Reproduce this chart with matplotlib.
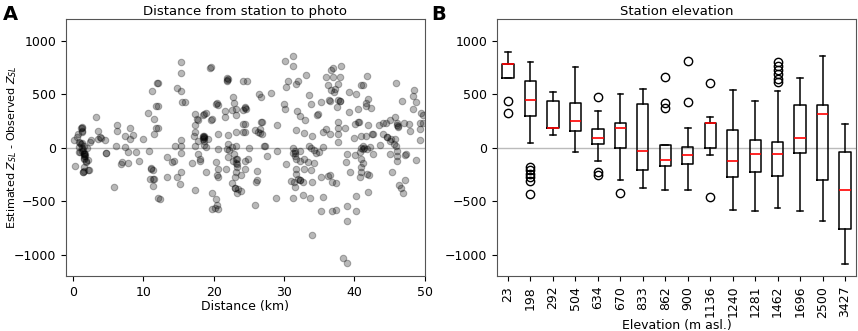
import numpy as np
import matplotlib.pyplot as plt

# panel A: distance (km) vs residual (m)
distance_km = [
    0.1, 0.3, 0.5, 0.7, 0.9, 1.0, 1.1, 1.2, 1.3, 1.2, 1.4, 1.5, 1.5, 1.4, 1.6, 1.6, 1.7, 1.8,
    1.6, 1.3, 2.0, 2.1, 2.2, 2.4, 2.6, 3.2, 3.6, 3.5, 3.8, 4.0, 4.5, 4.7,
    0.9, 1.1, 1.6, 1.3, 1.7, 1.5, 1.9, 1.6, 1.0, 0.8, 1.2, 1.3, 1.5, 1.4,
    6.2, 6.2, 8.15, 7.35, 8.5, 8.05, 10.0, 6.06, 4.64, 7.34, 7.8, 9.0, 10.75, 7.0, 6.8, 7.8,
    9.4, 5.83, 2.13, 11.1, 11.3, 10.9, 11.5, 11.3, 12.1, 10.67, 11.28, 11.95, 11.85, 11.47,
    11.47, 11.85, 11.3, 11.1,
    15.3, 15.3, 12.1, 14.8, 15.4, 15.5, 15.9, 19.5, 19.6, 21.9, 21.9, 21.9, 12.1, 12.1, 24.2,
    22.8, 22.9, 23.1, 24.2, 24.5, 20.3, 20.6, 20.5, 18.6, 18.5, 18.9, 17.3, 19.55, 19.8, 17.6,
    17.4, 17.3, 17.7, 21.6, 21.6, 22.6, 23.1, 24.2, 24.2, 23.1, 22.0, 20.6, 18.6, 18.5, 18.6,
    18.6, 18.5, 17.8, 17.2, 15.4, 15.4, 14.55, 17.3, 18.6, 19.2, 18.9, 20.6, 21.9, 22.6, 23.1,
    22.0, 15.3, 13.4, 14.3, 14.1, 16.9, 18.1, 18.1, 17.8, 18.9, 20.3, 20.6, 20.5, 20.6, 21.8,
    22.0, 22.1, 22.7, 23.3, 23.3, 23.3, 23.2, 23.0, 22.6, 23.0, 23.4, 23.3, 23.9, 23.9, 24.4,
    24.4, 15.3, 15.2, 13.4, 14.8, 12.3, 17.4, 20.3, 19.8, 19.8, 20.4, 20.6, 20.2, 18.6, 18.5,
    22.9, 23.2, 23.0, 22.0, 23.2,
    31.2, 30.2, 31.2, 33.1, 30.3, 30.6, 31.7, 32.0, 26.5, 26.7, 28.1, 24.7, 29.96, 30.1, 33.5,
    33.8, 35.3, 36.0, 36.7, 36.9, 36.3, 36.7, 36.4, 36.6, 37.1, 31.9, 32.2, 33.0, 34.7, 34.8,
    24.5, 24.6, 24.4, 24.4, 26.7, 26.9, 26.6, 26.3, 25.9, 26.6, 26.8, 29.0, 31.7, 32.9, 34.0,
    35.6, 36.0, 36.6, 25.0, 27.2, 27.3, 29.0, 31.2, 31.6, 31.3, 31.6, 32.3, 33.6, 33.8, 34.2,
    34.5, 34.9, 35.5, 24.9, 27.6, 30.3, 31.7, 32.2, 32.9, 33.4, 34.3, 32.9, 33.8, 31.7, 31.7,
    31.0, 31.4, 32.0, 32.2, 32.7, 31.5, 34.0, 36.2, 36.5, 36.8, 26.2, 26.1, 26.0, 25.9, 28.9,
    31.2, 32.7, 33.7, 35.5, 35.3, 36.8, 34.0, 31.6, 32.3,
    38.1, 37.9, 37.7, 37.0, 37.2, 37.6, 37.9, 37.5, 41.8, 40.9, 41.2, 39.2, 40.3, 45.9, 48.5,
    48.4, 48.7, 46.7, 41.9, 41.7, 42.4, 41.6, 39.2, 40.5, 48.4, 49.5, 49.8, 37.7, 37.7, 37.6,
    37.7, 40.1, 40.5, 40.7, 41.9, 42.5, 43.5, 44.1, 44.5, 45.1, 45.8, 46.1, 46.0, 47.0, 47.7,
    47.9, 49.4, 49.4, 49.3, 38.6, 41.6, 40.0, 40.9, 44.0, 44.7, 45.2, 45.8, 45.0, 45.6, 45.9,
    46.0, 46.1, 46.1, 45.4, 43.7, 41.2, 41.4, 41.8, 42.2, 39.0, 40.1, 40.8, 41.0, 41.2, 41.0,
    41.0, 40.8, 41.8, 42.1, 42.6, 45.0, 47.3, 48.8, 38.8, 39.4, 40.3, 41.9, 47.2, 46.3, 46.6,
    46.9, 39.0, 40.3, 39.0, 37.4, 37.4, 38.4, 39.0,
    37.9, 41.0, 41.2, 46.2, 46.2, 49.8, 42.6, 44.7, 47.2, 35.3,
]
residual_m = [
    70, -175, 100, 130, -40, 40, 180, 190, 160, 45, -20, -60, -100, -230, -220, -180, -80, -130,
    -50, 0, 0, -120, -210, 50, 70, 290, 160, 80, 100, 90, 70, -50,
    50, 35, 19, -28, -60, -82, -122, -103, -44, 3, 182, 144, -60, -232,
    216, 160, 182, 106, 119, 82, 82, 19, -53, 3, -44, -44, -28, -132, -154, -144,
    -122, -367, -210, -201, -289, -295, -295, -357, -473, 326, 533, 605, 389, 270,
    129, 182, -210, -190,
    797, 693, 605, 558, 527, 426, 426, 746, 755, 646, 621, 635, 389, 182, 621,
    473, 417, 364, 348, 380, 411, 396, 420, 317, 307, 326, 317, 254, 263, 263,
    207, 144, 254, 339, 285, 348, 307, 223, 144, 144, 122, 129, 113, 97, 60,
    90, 110, 66, 113, 72, 19, 19, 19, 25, 79, 3, -13, -13, 3, 19,
    35, -53, -91, -122, -132, -144, -103, -122, -63, -232, -138, -201, -257, -279, -204,
    -91, -19, -122, -107, -154, -185, -232, -279, -332, -373, -389, -420, -404, -257, -204,
    -129, -232, -342, -270, -279, -476, -395, -483, -420, -571, -539, -577, -560, 100, 85,
    -60, -140, -380, 640, -110,
    859, 809, 762, 677, 567, 621, 599, 621, 505, 474, 514, 621, 411, 364, 489,
    411, 426, 661, 724, 661, 583, 536, 442, 433, 520, 339, 295, 254, 301, 317,
    370, 364, 223, 150, 238, 238, 176, 150, 169, 135, 129, 207, 169, 135, 113,
    150, 176, 129, -6, 19, 13, -35, -6, -28, -50, -75, -28, 19, -6, -19,
    -50, -38, 3, -107, -82, -154, -107, -122, -107, -138, -144, -204, -213, -198, -245,
    -314, -317, -292, -307, -323, -370, -317, -267, -260, -320, -216, -301, -317, -539, -473,
    -470, -445, -470, -460, -589, -589, -816, -50, -300,
    765, 661, 599, 740, 552, 442, 433, 380, 671, 583, 583, 520, 505, 608, 543,
    483, 426, 433, 451, 420, 370, 386, 329, 358, 364, 326, 301, 238, 182, 129,
    50, 223, 238, 238, 216, 129, 216, 229, 232, 254, 285, 207, 232, 229, 223,
    160, 232, 176, 75, 182, 113, 88, 113, 129, 97, 82, 82, 66, 35, 19,
    -28, -75, -122, -232, 25, 13, -3, -13, 3, -60, -69, -44, -107, -144, -185,
    -232, -279, -245, -260, -60, -60, -60, -113, -138, -232, -451, -414, -301, -351, -373,
    -420, -546, -593, -687, -580, -326, -1031, -1078,
    440, 0, -10, 200, 190, 230, 130, 97, -70, -270,
]

# panel B: station elevation boxplot stats
elevations = ["23", "198", "292", "504", "634", "670", "833", "862", "900", "1136",
              "1240", "1281", "1462", "1696", "2500", "3427"]
whis_low = [652, 41, 122, -44, -125, -304, -376, -392, -395, -69, -583, -589, -567, -596, -690, -1085]
q1 = [652, 300, 185, 157, 34, -6, -213, -176, -154, 0, -279, -226, -263, -50, -301, -765]
medians = [780, 448, 185, 248, 94, 188, -31, -119, -69, 232, -129, -63, -56, 91, 317, -392]
q3 = [780, 620, 433, 420, 172, 232, 411, 25, 9, 232, 166, 69, 53, 398, 398, -44]
whis_high = [890, 800, 520, 755, 339, 502, 552, 25, 188, 288, 536, 439, 530, 649, 859, 219]
fliers = [
    [436, 323],
    [-185, -210, -242, -279, -310, -436],
    [],
    [],
    [473, -232, -257],
    [-423],
    [],
    [661, 417, 373],
    [806, 423],
    [608, -458],
    [],
    [],
    [796, 765, 724, 687, 640, 614],
    [],
    [],
    [],
]

fig = plt.figure(figsize=(8.58, 3.31), dpi=100)
ax1 = fig.add_axes([0.077, 0.166, 0.418, 0.776])
ax2 = fig.add_axes([0.579, 0.166, 0.419, 0.776])

ax1.axhline(0, color="#bbbbbb", lw=1, zorder=0)
ax1.scatter(distance_km, residual_m, s=22, color="black", alpha=0.28, linewidths=0.8)
ax1.set_xlim(-1, 50)
ax1.set_ylim(-1200, 1200)
ax1.set_yticks([-1000, -500, 0, 500, 1000])
ax1.set_title("Distance from station to photo", fontsize=9.5, pad=3)
ax1.set_xlabel("Distance (km)", fontsize=9, labelpad=1)
ax1.set_ylabel("Estimated $Z_{SL}$ - Observed $Z_{SL}$", fontsize=8)
ax1.yaxis.set_label_coords(-0.13, 0.5)
ax1.tick_params(labelsize=9)

stats = []
for i in range(len(elevations)):
    stats.append(dict(whislo=whis_low[i], q1=q1[i], med=medians[i], q3=q3[i],
                      whishi=whis_high[i], fliers=fliers[i]))
ax2.axhline(0, color="#bbbbbb", lw=1, zorder=0)
ax2.bxp(stats, showfliers=True,
        medianprops=dict(color="red", lw=1.2),
        flierprops=dict(marker="o", markerfacecolor="none", markeredgecolor="black", markersize=6),
        boxprops=dict(lw=1.1), whiskerprops=dict(lw=1.1), capprops=dict(lw=1.1))
ax2.set_xticks(range(1, len(elevations) + 1))
ax2.set_xticklabels(elevations, rotation=90)
ax2.set_xlim(0.5, 16.5)
ax2.set_ylim(-1200, 1200)
ax2.set_yticks([-1000, -500, 0, 500, 1000])
ax2.set_title("Station elevation", fontsize=9.5, pad=3)
ax2.set_xlabel("Elevation (m asl.)", fontsize=9, labelpad=1)
ax2.tick_params(labelsize=9)

for ax in (ax1, ax2):
    for sp in ax.spines.values():
        sp.set_color("#555555")

fig.text(0.003, 0.985, "A", fontsize=14, fontweight="bold", va="top")
fig.text(0.503, 0.985, "B", fontsize=14, fontweight="bold", va="top")

fig.savefig("out.png", dpi=100)
